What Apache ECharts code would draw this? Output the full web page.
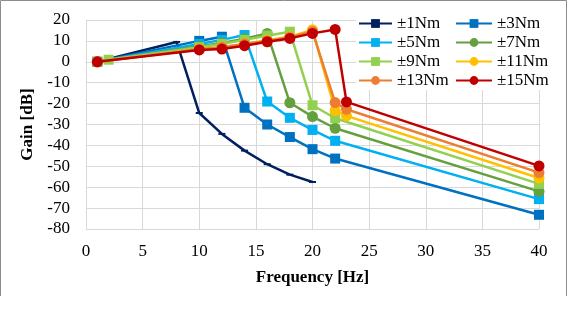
<!DOCTYPE html>
<html>
<head>
<meta charset="utf-8">
<script src="https://cdn.jsdelivr.net/npm/echarts@6/dist/echarts.min.js"></script>
<style>html,body{margin:0;padding:0;background:#fff}#c{width:568px;height:318px}</style>
</head>
<body>
<div id="c"></div>
<script>
const seriesNames = ['±1Nm', '±3Nm', '±5Nm', '±7Nm', '±9Nm', '±11Nm', '±13Nm', '±15Nm'];
const freq_1Nm = [1, 8, 10, 12, 14, 16, 18, 20];
const gain_1Nm = [0, 9.5, -24.5, -34.5, -42.5, -49, -54, -57.5];
const freq_3Nm = [1, 10, 12, 14, 16, 18, 20, 22, 40];
const gain_3Nm = [0, 10, 12, -22, -30, -36, -41.8, -46.3, -73.2];
const freq_5Nm = [1, 10, 12, 14, 16, 18, 20, 22, 40];
const gain_5Nm = [0, 8.5, 10.5, 12.8, -19, -26.8, -32.6, -37.8, -65.7];
const freq_7Nm = [1, 10, 12, 14, 16, 18, 20, 22, 40];
const gain_7Nm = [0, 7.5, 9, 11, 13.6, -19.6, -26.2, -31.8, -62];
const freq_9Nm = [1, 2, 10, 12, 14, 16, 18, 20, 22, 40];
const gain_9Nm = [0, 1, 7, 8.5, 10.5, 12.5, 14.4, -20.8, -27, -58.4];
const freq_11Nm = [1, 10, 12, 14, 16, 18, 20, 22, 23, 40];
const gain_11Nm = [0, 6, 7, 8.5, 10.3, 12, 15.3, -23.3, -25.9, -55.6];
const freq_13Nm = [1, 10, 12, 14, 16, 18, 20, 22, 23, 40];
const gain_13Nm = [0, 6, 7, 8.5, 10, 11.8, 14.5, -19.5, -22.7, -53];
const freq_15Nm = [1, 10, 12, 14, 16, 18, 20, 22, 23, 40];
const gain_15Nm = [0, 5.7, 6.1, 7.7, 9.6, 11.2, 13.6, 15.5, -19.2, -49.8];

const xTicks = [0, 5, 10, 15, 20, 25, 30, 35, 40];
const yTicks = [-80, -70, -60, -50, -40, -30, -20, -10, 0, 10, 20];

const freqs = [freq_1Nm, freq_3Nm, freq_5Nm, freq_7Nm, freq_9Nm, freq_11Nm, freq_13Nm, freq_15Nm];
const gains = [gain_1Nm, gain_3Nm, gain_5Nm, gain_7Nm, gain_9Nm, gain_11Nm, gain_13Nm, gain_15Nm];
const colors = ['#002060', '#0070C0', '#00B0F0', '#65A03F', '#92D050', '#FFC000', '#ED7D31', '#C00000'];
const symbols = ['rect', 'rect', 'rect', 'circle', 'rect', 'circle', 'circle', 'circle'];
const symbolSizes = [[7, 2], 10, 10, 11, 10, 11, 11, 11];

const font = 'Liberation Serif';
const chart = echarts.init(document.getElementById('c'), null, {renderer: 'canvas'});

const series = seriesNames.map((n, i) => ({
  name: n,
  type: 'line',
  data: freqs[i].map((f, j) => [f, gains[i][j]]),
  symbol: symbols[i],
  symbolSize: symbolSizes[i],
  showAllSymbol: true,
  color: colors[i],
  lineStyle: {width: 2.5, color: colors[i]},
  itemStyle: {color: colors[i]},
  z: 2 + i,
  animation: false
}));

chart.setOption({
  animation: false,
  backgroundColor: '#fff',
  grid: {left: 86, right: 29, top: 20, bottom: 89, containLabel: false},
  xAxis: {
    type: 'value', min: 0, max: 40, interval: 5,
    name: 'Frequency [Hz]', nameLocation: 'middle', nameGap: 40,
    nameTextStyle: {fontFamily: font, fontSize: 17, fontWeight: 'bold', color: '#000'},
    axisLine: {show: true, lineStyle: {color: '#d9d9d9', width: 1}},
    axisTick: {show: false},
    axisLabel: {fontFamily: font, fontSize: 17, color: '#000', margin: 14,
      formatter: v => xTicks.includes(v) ? String(v) : ''},
    splitLine: {show: true, lineStyle: {color: '#d9d9d9', width: 1}}
  },
  yAxis: {
    type: 'value', min: -80, max: 20, interval: 10,
    name: 'Gain [dB]', nameLocation: 'middle', nameGap: 43, nameRotate: 90,
    nameTextStyle: {fontFamily: font, fontSize: 17, fontWeight: 'bold', color: '#000'},
    axisLine: {show: true, lineStyle: {color: '#d9d9d9', width: 1}},
    axisTick: {show: false},
    axisLabel: {fontFamily: font, fontSize: 17, color: '#000', margin: 16,
      formatter: v => yTicks.includes(v) ? String(v) : ''},
    splitLine: {show: true, lineStyle: {color: '#d9d9d9', width: 1}}
  },
  legend: [
    {data: [seriesNames[0], seriesNames[2], seriesNames[4], seriesNames[6]],
     orient: 'vertical', left: 356, top: 14, itemWidth: 33, itemHeight: 11, itemGap: 0,
     backgroundColor: '#fff', padding: [0, 4, 0, 2],
     textStyle: {fontFamily: font, fontSize: 17, color: '#000', lineHeight: 19}},
    {data: [seriesNames[1], seriesNames[3], seriesNames[5], seriesNames[7]],
     orient: 'vertical', left: 453, top: 14, itemWidth: 36, itemHeight: 11, itemGap: 0,
     backgroundColor: '#fff', padding: [0, 4, 0, 2],
     textStyle: {fontFamily: font, fontSize: 17, color: '#000', lineHeight: 19}}
  ],
  graphic: [
    {type: 'rect', z: 0, silent: true, shape: {x: 352, y: 8, width: 212, height: 84},
     style: {fill: '#fff'}},
    {type: 'polyline', z: 100, silent: true,
     shape: {points: [[0.5, 296], [0.5, 0.5], [566.5, 0.5], [566.5, 296]]},
     style: {stroke: '#8c8c8c', lineWidth: 1, fill: null}}
  ],
  series: series
});
</script>
</body>
</html>
